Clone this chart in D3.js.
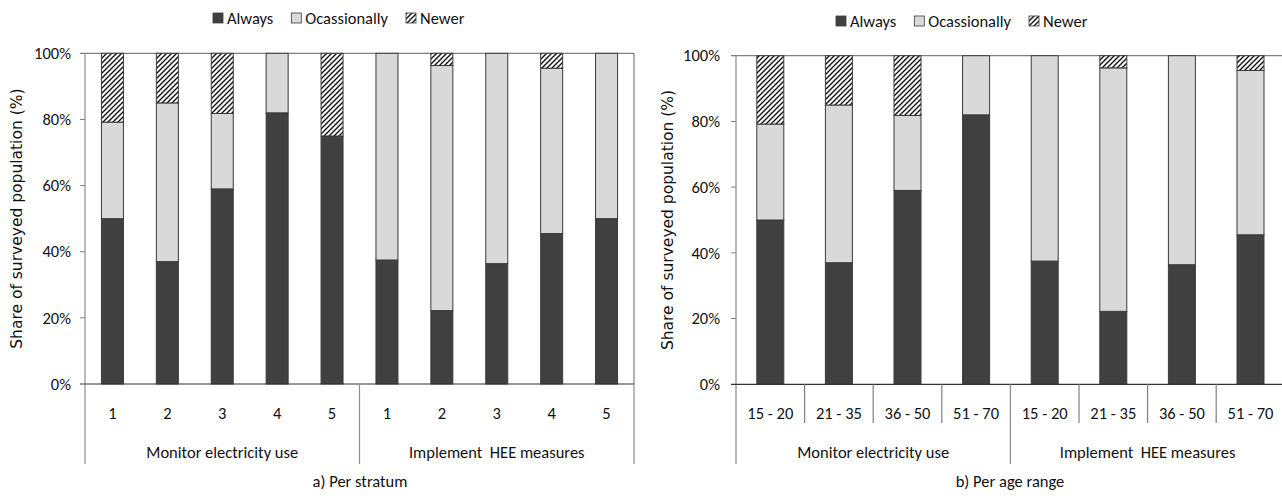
<!DOCTYPE html>
<html><head><meta charset="utf-8">
<script src="https://cdn.jsdelivr.net/npm/d3@7"></script>
<style>
body{margin:0;background:#fff;}
svg{display:block;}
text{font-family:Carlito,"Liberation Sans Narrow","Open Sans",sans-serif;fill:#111;}
.ytitle{font-family:"DejaVu Sans","Open Sans",sans-serif;font-size:15.5px;}
</style></head>
<body>
<svg id="chart" width="1282" height="496"></svg>
<script>
// ---- data ----
const seriesNames = ["Always", "Ocassionally", "Newer"];
const groupNames = ["Monitor electricity use", "Implement  HEE measures"];
const strata = ["1", "2", "3", "4", "5"];
const ageRanges = ["15 - 20", "21 - 35", "36 - 50", "51 - 70"];
const yTicks = [0, 20, 40, 60, 80, 100];

const alwaysStratum = [50, 37, 59, 82, 75, 37.5, 22.2, 36.4, 45.5, 50];
const occStratum    = [29.2, 48, 22.8, 18, 0, 62.5, 74.1, 63.6, 50, 50];
const newerStratum  = [20.8, 15, 18.2, 0, 25, 0, 3.7, 0, 4.5, 0];

const alwaysAge = [50, 37, 59, 82, 37.5, 22.2, 36.4, 45.5];
const occAge    = [29.2, 48, 22.8, 18, 62.5, 74.1, 63.6, 50];
const newerAge  = [20.8, 15, 18.2, 0, 0, 3.7, 0, 4.5];

const svg = d3.select("#chart");
const defs = svg.append("defs");
const pat = defs.append("pattern").attr("id", "hatch")
  .attr("patternUnits", "userSpaceOnUse").attr("width", 5).attr("height", 5);
pat.append("rect").attr("width", 5).attr("height", 5).attr("fill", "#fff");
pat.append("path").attr("d", "M-1,1 l2,-2 M0,5 l5,-5 M4,6 l2,-2")
  .attr("stroke", "#111").attr("stroke-width", 1.4);

const fills = {"Always": "#404040", "Ocassionally": "#d9d9d9", "Newer": "url(#hatch)"};

function drawPanel(opt) {
  const {cats, always, occ, newer, left, catW, top, bottom, barW, right,
         yLabelX, yTitleX, legendX, legendY, title, titleX, shortSeps} = opt;
  const nCat = cats.length;
  const keys = d3.range(nCat * 2).map(i => ({
    key: i, group: groupNames[Math.floor(i / nCat)], cat: cats[i % nCat],
    "Always": always[i], "Ocassionally": occ[i], "Newer": newer[i]
  }));
  const x = d3.scaleBand().domain(keys.map(d => d.key))
    .range([left, left + catW * nCat * 2]).paddingInner(0).paddingOuter(0);
  const y = d3.scaleLinear().domain([0, 100]).range([bottom, top]);
  const g = svg.append("g");

  // plot border (top + left + right)
  g.append("line").attr("x1", left - 5).attr("x2", right).attr("y1", y(100)).attr("y2", y(100))
    .attr("stroke", "#7f7f7f").attr("stroke-width", 1.2);
  g.append("line").attr("x1", left).attr("x2", left).attr("y1", y(100)).attr("y2", 464)
    .attr("stroke", "#8c8c8c").attr("stroke-width", 1.2);
  if (right < 1282) {
    g.append("line").attr("x1", right).attr("x2", right).attr("y1", y(100)).attr("y2", y(0))
      .attr("stroke", "#7f7f7f").attr("stroke-width", 1.2);
  }

  // y ticks
  yTicks.forEach(t => {
    if (t > 0 && t < 100) {
      g.append("line").attr("x1", left - 5).attr("x2", left).attr("y1", y(t)).attr("y2", y(t))
        .attr("stroke", "#7f7f7f");
    }
    g.append("text").attr("x", yLabelX).attr("y", y(t)).attr("dy", "0.35em")
      .attr("text-anchor", "end").attr("font-size", 16.5).text(t + "%");
  });

  // bars
  const stack = d3.stack().keys(seriesNames)(keys);
  stack.forEach(layer => {
    g.append("g").selectAll("rect").data(layer.filter(d => d[1] - d[0] > 0)).join("rect")
      .attr("x", d => x(d.data.key) + (catW - barW) / 2)
      .attr("width", barW)
      .attr("y", d => y(d[1]))
      .attr("height", d => y(d[0]) - y(d[1]))
      .attr("fill", fills[layer.key])
      .attr("stroke", "#3a3a3a").attr("stroke-width", 1);
  });

  // baseline
  g.append("line").attr("x1", left - 5).attr("x2", right).attr("y1", y(0)).attr("y2", y(0))
    .attr("stroke", "#333").attr("stroke-width", 1.2);

  // category labels
  keys.forEach(d => {
    g.append("text").attr("x", x(d.key) + catW / 2).attr("y", 413).attr("dy", "0.35em")
      .attr("text-anchor", "middle").attr("font-size", 16.5).text(d.cat);
  });
  // short separators
  if (shortSeps) {
    keys.forEach((d, i) => {
      if (i % nCat !== 0) {
        g.append("line").attr("x1", x(d.key)).attr("x2", x(d.key)).attr("y1", y(0)).attr("y2", 423)
          .attr("stroke", "#7f7f7f").attr("stroke-width", 1.2);
      }
    });
  }
  // group separators and labels
  groupNames.forEach((gn, gi) => {
    const gx0 = left + gi * nCat * catW;
    const gx1 = gx0 + nCat * catW;
    if (gi > 0) {
      g.append("line").attr("x1", gx0).attr("x2", gx0).attr("y1", y(0)).attr("y2", 464)
        .attr("stroke", "#8c8c8c").attr("stroke-width", 1.2);
    }
    if (gi === groupNames.length - 1 && gx1 < 1282) {
      g.append("line").attr("x1", gx1).attr("x2", gx1).attr("y1", y(0)).attr("y2", 464)
        .attr("stroke", "#8c8c8c").attr("stroke-width", 1.2);
    }
    g.append("text").attr("x", (gx0 + Math.min(gx1, 1282 + 3)) / 2).attr("y", 452).attr("dy", "0.35em")
      .attr("text-anchor", "middle").attr("font-size", 16.5).style("white-space", "pre").text(gn);
  });

  // y title
  g.append("text").attr("class", "ytitle")
    .attr("transform", `translate(${yTitleX},${(y(0) + y(100)) / 2}) rotate(-90)`)
    .attr("text-anchor", "middle").attr("dy", "0.35em").text("Share of surveyed population (%)");

  // panel title
  g.append("text").attr("x", titleX).attr("y", 481).attr("dy", "0.35em")
    .attr("text-anchor", "middle").attr("font-size", 16.5).text(title);

  // legend
  let lx = legendX;
  seriesNames.forEach(s => {
    g.append("rect").attr("x", lx).attr("y", legendY - 5).attr("width", 10).attr("height", 10)
      .attr("fill", fills[s]).attr("stroke", "#3a3a3a").attr("stroke-width", 0.8);
    const t = g.append("text").attr("x", lx + 14).attr("y", legendY).attr("dy", "0.35em")
      .attr("font-size", 16.5).text(s);
    lx += 14 + t.node().getComputedTextLength() + 18;
  });
}

drawPanel({cats: strata, always: alwaysStratum, occ: occStratum, newer: newerStratum,
  left: 85, catW: 54.9, right: 634, top: 53.3, bottom: 384, barW: 22,
  yLabelX: 71, yTitleX: 17, legendX: 213, legendY: 18,
  title: "a) Per stratum", titleX: 360, shortSeps: false});

drawPanel({cats: ageRanges, always: alwaysAge, occ: occAge, newer: newerAge,
  left: 736, catW: 68.6, right: 1282, top: 55.7, bottom: 384.3, barW: 27,
  yLabelX: 720, yTitleX: 668, legendX: 836, legendY: 21,
  title: "b) Per age range", titleX: 1010, shortSeps: true});
</script>
</body></html>
